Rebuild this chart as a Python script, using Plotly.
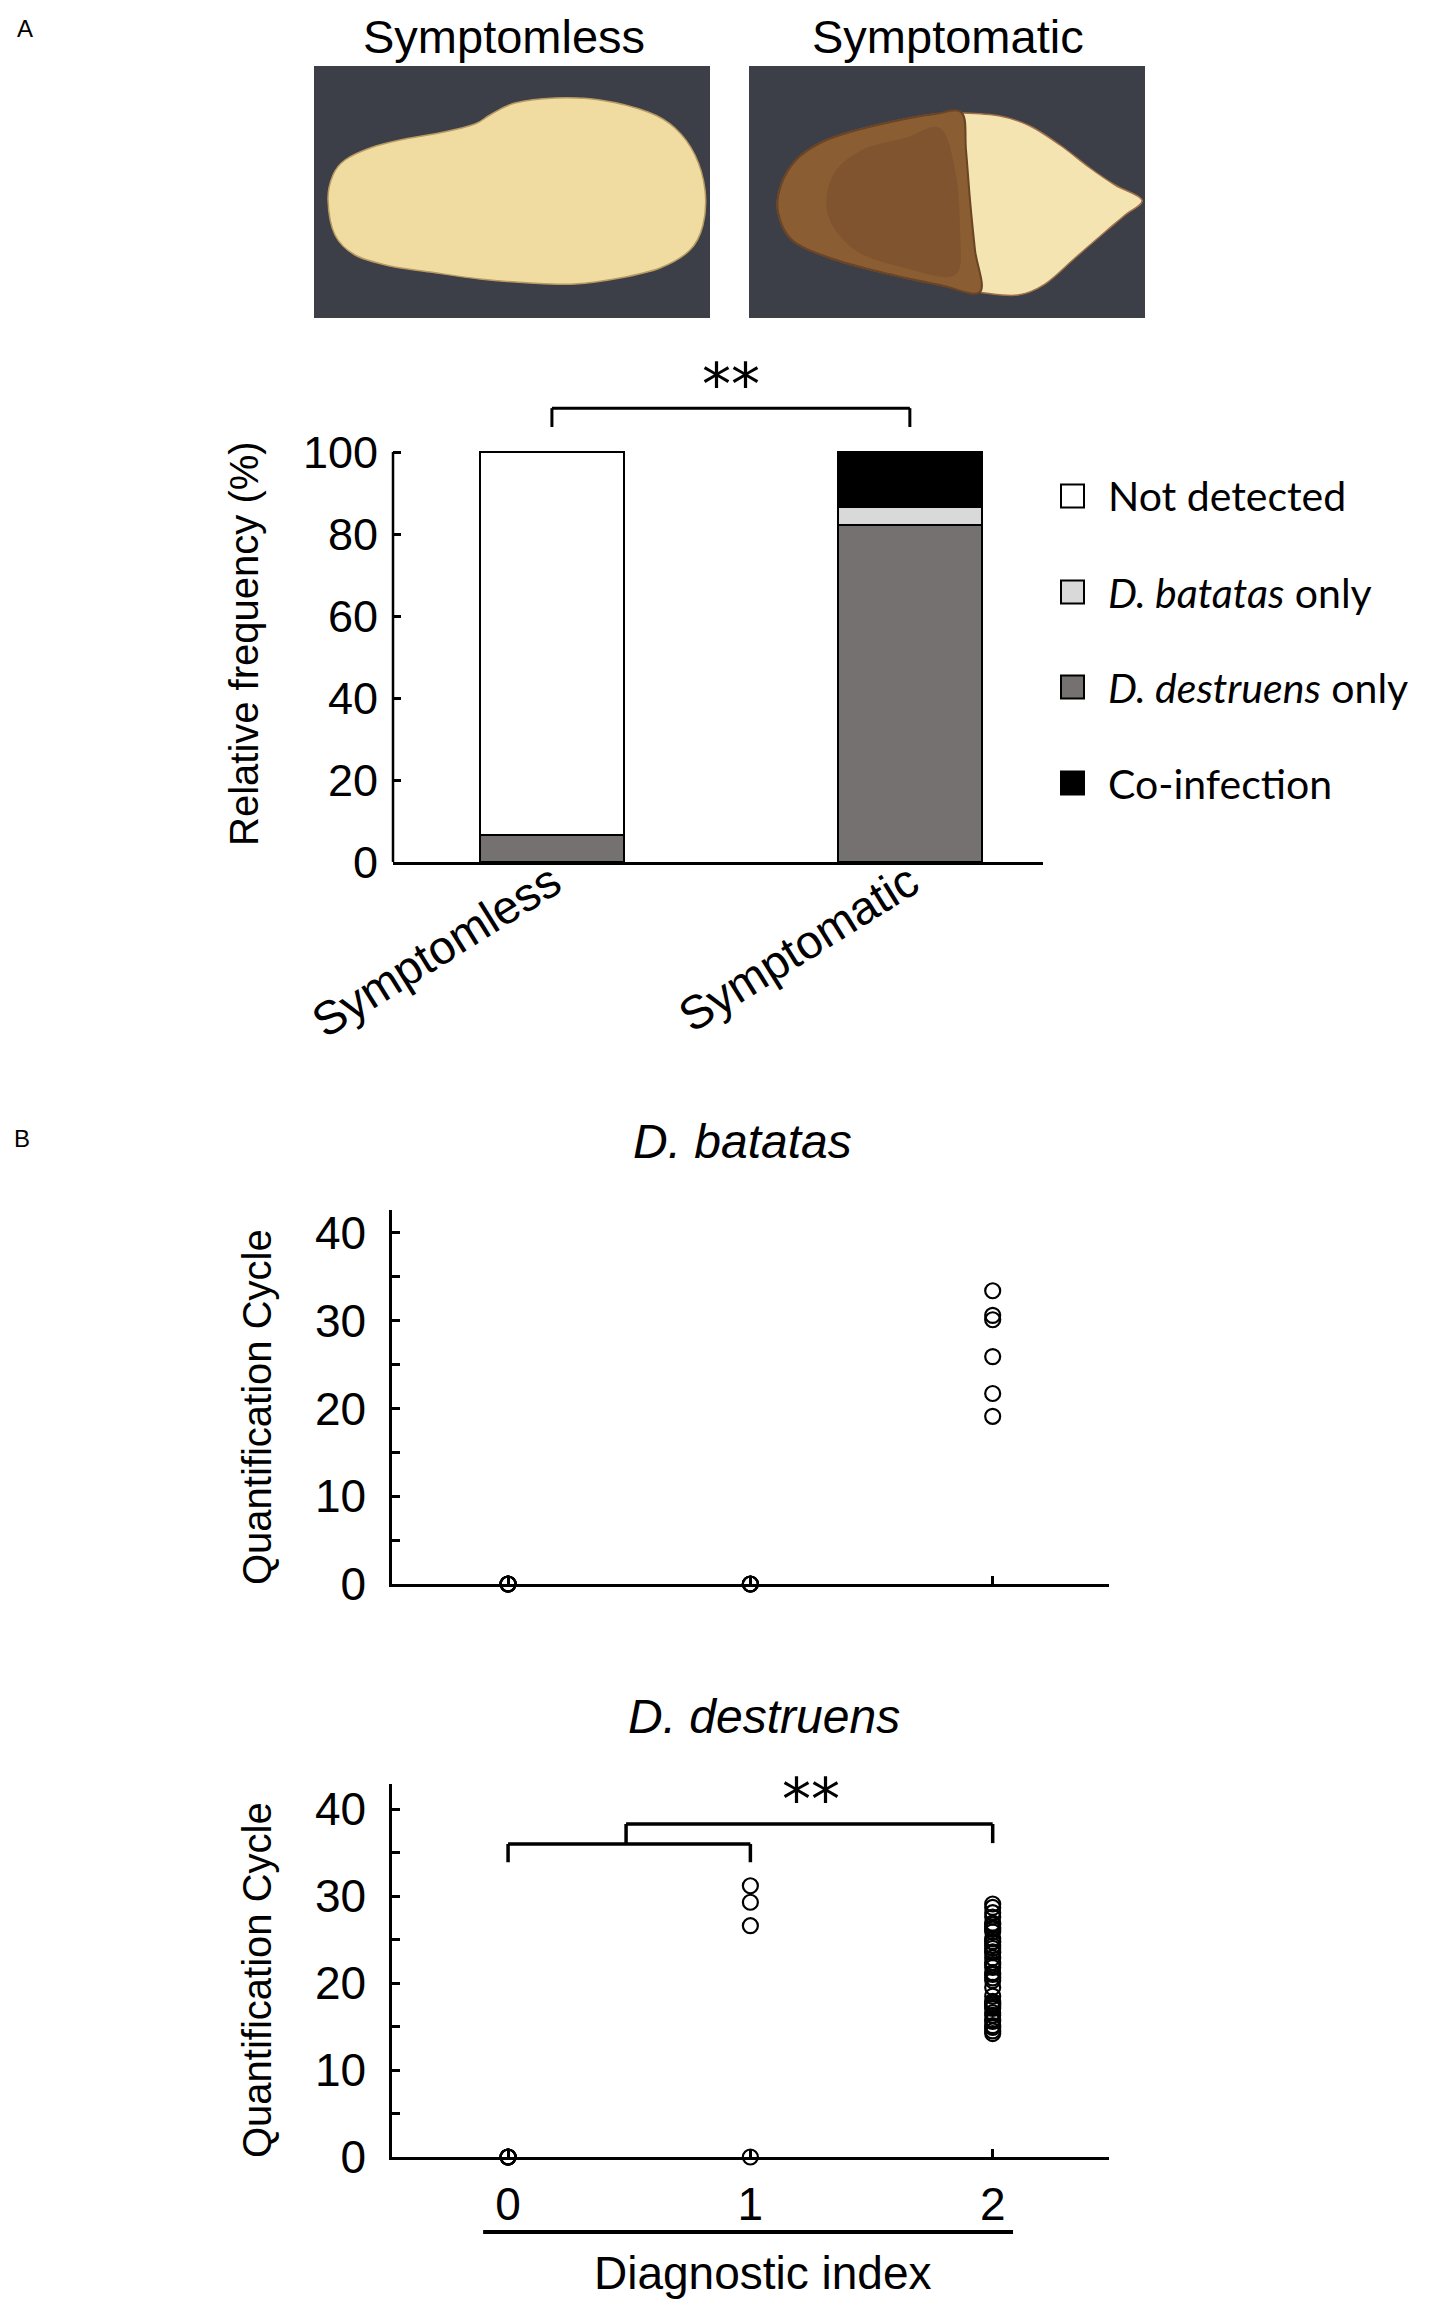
import plotly.graph_objects as go

W, H = 1450, 2306
OFF = 8  # page body margin that shifts the whole figure

# ---- Panel A: detection frequency (%) ----
tuber_groups = ["Symptomless", "Symptomatic"]
not_detected = [93.3, 0.0]
batatas_only = [0.0, 4.4]
destruens_only = [6.7, 82.2]
co_infection = [0.0, 13.3]

legend_labels = ["Not detected", "<i>D. batatas</i> only", "<i>D. destruens</i> only", "Co-infection"]
legend_colors = ["#ffffff", "#d9d9d9", "#767171", "#000000"]

# ---- Panel B: quantification cycle by diagnostic index ----
diag_ticks = [0, 1, 2]
batatas_idx0 = [0, 0, 0, 0, 0, 0]
batatas_idx1 = [0, 0, 0, 0]
batatas_idx2 = [33.4, 30.6, 30.1, 25.9, 21.7, 19.1]
destruens_idx0 = [0, 0, 0, 0, 0, 0]
destruens_idx1 = [31.2, 29.3, 26.6, 0]
destruens_idx2 = [29.1, 28.7, 28.1, 27.6, 26.9, 26.7, 26.4, 26.2, 25.9, 25.1, 24.8,
                  24.7, 24.3, 24.0, 23.6, 23.5, 22.9, 22.4, 22.1, 21.8, 21.2, 21.0,
                  20.6, 20.3, 19.5, 18.5, 17.9, 17.7, 17.5, 17.3, 17.1, 16.6, 16.3,
                  15.8, 15.6, 15.1, 14.9, 14.5, 14.2]


def fx(x):
    return (x - OFF) / W


def fy(y):
    return 1 - (y - OFF) / H


def smooth_path(pts):
    # closed Catmull-Rom curve through pixel points, written in paper units
    n = len(pts)
    d = f"M{fx(pts[0][0]):.5f},{fy(pts[0][1]):.5f}"
    for i in range(n):
        p0, p1, p2, p3 = pts[i - 1], pts[i], pts[(i + 1) % n], pts[(i + 2) % n]
        c1 = (p1[0] + (p2[0] - p0[0]) / 6, p1[1] + (p2[1] - p0[1]) / 6)
        c2 = (p2[0] - (p3[0] - p1[0]) / 6, p2[1] - (p3[1] - p1[1]) / 6)
        d += (f" C{fx(c1[0]):.5f},{fy(c1[1]):.5f} {fx(c2[0]):.5f},{fy(c2[1]):.5f}"
              f" {fx(p2[0]):.5f},{fy(p2[1]):.5f}")
    return d + " Z"


fig = go.Figure()

# ==============================================================================
# A. STACKED BARS
# ==============================================================================
bar_series = [
    ("D. destruens only", destruens_only, legend_colors[2]),
    ("D. batatas only", batatas_only, legend_colors[1]),
    ("Co-infection", co_infection, legend_colors[3]),
    ("Not detected", not_detected, legend_colors[0]),
]
for name, vals, col in bar_series:
    fig.add_trace(go.Bar(
        x=tuber_groups, y=vals, name=name, width=0.402,
        marker=dict(color=col, line=dict(color="black", width=2)),
        xaxis="x", yaxis="y", showlegend=False
    ))

# ==============================================================================
# B. SCATTER PANELS
# ==============================================================================
marker_style = dict(symbol="circle-open", size=15, color="black", line=dict(width=2.2))
for xa, ya, groups in [("x2", "y2", [batatas_idx0, batatas_idx1, batatas_idx2]),
                       ("x3", "y3", [destruens_idx0, destruens_idx1, destruens_idx2])]:
    for idx, vals in zip(diag_ticks, groups):
        fig.add_trace(go.Scatter(
            x=[idx] * len(vals), y=vals, mode="markers", marker=marker_style,
            xaxis=xa, yaxis=ya, cliponaxis=False, showlegend=False
        ))

# ==============================================================================
# PHOTOS (drawn as simple shapes)
# ==============================================================================
shapes = []
photo_bg = "#3c3f47"
for x0, x1 in [(314, 710), (749, 1145)]:
    shapes.append(dict(type="rect", xref="paper", yref="paper",
                       x0=fx(x0), x1=fx(x1), y0=fy(318), y1=fy(66),
                       fillcolor=photo_bg, line=dict(width=0), layer="below"))

blob1 = [(328, 200), (333, 175), (345, 160), (370, 148), (400, 140), (444, 132),
         (475, 124), (490, 115), (515, 103), (555, 98), (600, 100), (648, 112),
         (675, 128), (695, 155), (705, 190), (703, 225), (690, 250), (660, 268),
         (620, 278), (575, 284), (530, 283), (480, 279), (430, 272), (390, 266),
         (355, 255), (335, 235)]
shapes.append(dict(type="path", xref="paper", yref="paper", path=smooth_path(blob1),
                   fillcolor="#f0dba0", line=dict(color="#b89a62", width=1.5)))

blob2 = [(962, 113), (1000, 116), (1030, 126), (1060, 145), (1090, 168), (1115, 185),
         (1142, 200), (1125, 215), (1105, 232), (1075, 258), (1045, 284), (1018, 295),
         (985, 293), (940, 285), (880, 272), (830, 258), (792, 240), (778, 212),
         (781, 185), (796, 160), (820, 143), (850, 132), (900, 120), (935, 114)]
shapes.append(dict(type="path", xref="paper", yref="paper", path=smooth_path(blob2),
                   fillcolor="#f4e4b2", line=dict(color="#a0704a", width=1.5)))
rot = [(962, 113), (966, 150), (970, 200), (975, 250), (980, 292), (940, 285),
       (880, 272), (830, 258), (792, 240), (778, 212), (781, 185), (796, 160),
       (820, 143), (850, 132), (900, 120), (935, 114)]
shapes.append(dict(type="path", xref="paper", yref="paper", path=smooth_path(rot),
                   fillcolor="#8a5d33", line=dict(color="#6a4424", width=2)))
# darker mottled band inside the rotted part
rot_core = [(905, 138), (940, 128), (955, 170), (960, 230), (955, 275), (905, 268),
            (855, 250), (828, 215), (833, 175), (862, 150)]
shapes.append(dict(type="path", xref="paper", yref="paper", path=smooth_path(rot_core),
                   fillcolor="#6e4626", line=dict(width=0), opacity=0.35))

# ==============================================================================
# AXIS LINE, BRACKETS, LEGEND
# ==============================================================================
line_k = dict(color="black", width=2.5)
# panel A y axis line only up to 100
shapes.append(dict(type="line", xref="paper", yref="y", x0=fx(393), x1=fx(393),
                   y0=0, y1=100, line=line_k))

# panel A bracket
i0, i1 = 0, 1
shapes += [
    dict(type="line", xref="x", yref="y", x0=i0, x1=i0, y0=106.1, y1=110.7, line=dict(color="black", width=3)),
    dict(type="line", xref="x", yref="y", x0=i0, x1=i1, y0=110.7, y1=110.7, line=dict(color="black", width=3)),
    dict(type="line", xref="x", yref="y", x0=i1, x1=i1, y0=106.1, y1=110.7, line=dict(color="black", width=3)),
]

# panel B (D. destruens) nested bracket
br = dict(color="black", width=3.5)
shapes += [
    dict(type="line", xref="x3", yref="y3", x0=0, x1=0, y0=33.9, y1=36.0, line=br),
    dict(type="line", xref="x3", yref="y3", x0=0, x1=1, y0=36.0, y1=36.0, line=br),
    dict(type="line", xref="x3", yref="y3", x0=1, x1=1, y0=33.9, y1=36.0, line=br),
    dict(type="line", xref="x3", yref="y3", x0=0.487, x1=0.487, y0=36.0, y1=38.3, line=br),
    dict(type="line", xref="x3", yref="y3", x0=0.487, x1=2, y0=38.3, y1=38.3, line=br),
    dict(type="line", xref="x3", yref="y3", x0=2, x1=2, y0=36.1, y1=38.3, line=br),
]

# underline below diagnostic index tick labels
shapes.append(dict(type="line", xref="x3", yref="paper", x0=-0.103, x1=2.084,
                   y0=fy(2232), y1=fy(2232), line=dict(color="black", width=4)))

# legend squares
annotations = []
leg_rows = [496, 592, 687, 783]
for lab, col, yy in zip(legend_labels, legend_colors, leg_rows):
    shapes.append(dict(type="rect", xref="paper", yref="paper",
                       x0=fx(1061), x1=fx(1084), y0=fy(yy + 11.5), y1=fy(yy - 11.5),
                       fillcolor=col, line=dict(color="black", width=2)))
    annotations.append(dict(xref="paper", yref="paper", x=fx(1106), y=fy(yy),
                            text=lab, showarrow=False, xanchor="left", yanchor="middle",
                            font=dict(family="Lato", size=41, color="black")))

# ==============================================================================
# TEXT
# ==============================================================================
def label(x, y, text, size, **kw):
    d = dict(xref="paper", yref="paper", x=fx(x), y=fy(y), text=text, showarrow=False,
             xanchor="center", yanchor="middle", font=dict(size=size, color="black"))
    d.update(kw)
    annotations.append(d)


label(25, 28, "A", 24)
label(22, 1138, "B", 24)
# photo headers sit right at the top edge
for txt, xc in [("Symptomless", 504), ("Symptomatic", 948)]:
    annotations.append(dict(xref="paper", yref="paper", x=fx(xc), y=1, text=txt,
                            showarrow=False, xanchor="center", yanchor="top",
                            font=dict(size=47, color="black")))
label(244, 643, "Relative frequency (%)", 40, textangle=-90)
label(742, 1141, "<i>D. batatas</i>", 48)
label(764, 1716, "<i>D. destruens</i>", 48)
label(257, 1407, "Quantification Cycle", 40, textangle=-90)
label(257, 1980, "Quantification Cycle", 40, textangle=-90)
label(763, 2273, "Diagnostic index", 46)

annotations.append(dict(xref="x", yref="y", x=0.5, y=118.8, text="**", showarrow=False,
                        yshift=-10, font=dict(family="DejaVu Sans", size=58, color="black")))
annotations.append(dict(xref="x3", yref="y3", x=1.25, y=42.2, text="**", showarrow=False,
                        yshift=-10, font=dict(family="DejaVu Sans", size=58, color="black")))

# ==============================================================================
# LAYOUT
# ==============================================================================
tick_common = dict(ticks="inside", ticklen=8, tickwidth=2.5, tickcolor="black",
                   showgrid=False, zeroline=False, automargin=False)
xb = dict(domain=[fx(392), fx(1109)], range=[-0.479, 2.48], tickvals=diag_ticks,
          showline=True, linecolor="black", linewidth=2.5,
          tickfont=dict(size=46), ticklabelstandoff=5, **tick_common)
yb = dict(range=[0, 42.6], tick0=0, dtick=10, showline=True, linecolor="black", linewidth=2.5,
          tickfont=dict(size=46), ticklabelstandoff=14,
          minor=dict(dtick=5, ticks="inside", ticklen=8, tickwidth=2.5, tickcolor="black"),
          **tick_common)

fig.update_layout(
    width=W, height=H, autosize=False,
    margin=dict(l=0, r=0, t=0, b=0, pad=0, autoexpand=False),
    paper_bgcolor="white", plot_bgcolor="white", showlegend=False, barmode="stack",
    font=dict(family="Liberation Sans, Arial", color="black"),
    xaxis=dict(domain=[fx(393), fx(1043)], range=[-0.444, 1.372], type="category",
               showline=True, linecolor="black", linewidth=2.5, ticks="", tickangle=-32,
               tickfont=dict(size=47), ticklabelstandoff=-28, showgrid=False, zeroline=False,
               automargin=False, anchor="y"),
    yaxis=dict(domain=[fy(862), fy(370)], range=[0, 120], tickvals=[0, 20, 40, 60, 80, 100],
               showline=False, tickfont=dict(size=45), ticklabelstandoff=14, anchor="x",
               **tick_common),
    xaxis2=dict(anchor="y2", showticklabels=False, **xb),
    yaxis2=dict(anchor="x2", domain=[fy(1584), fy(1210)], **yb),
    xaxis3=dict(anchor="y3", **xb),
    yaxis3=dict(anchor="x3", domain=[fy(2157), fy(1784)], **{**yb, "range": [0, 42.9]}),
    shapes=shapes, annotations=annotations,
)

fig.write_html("out.html")
